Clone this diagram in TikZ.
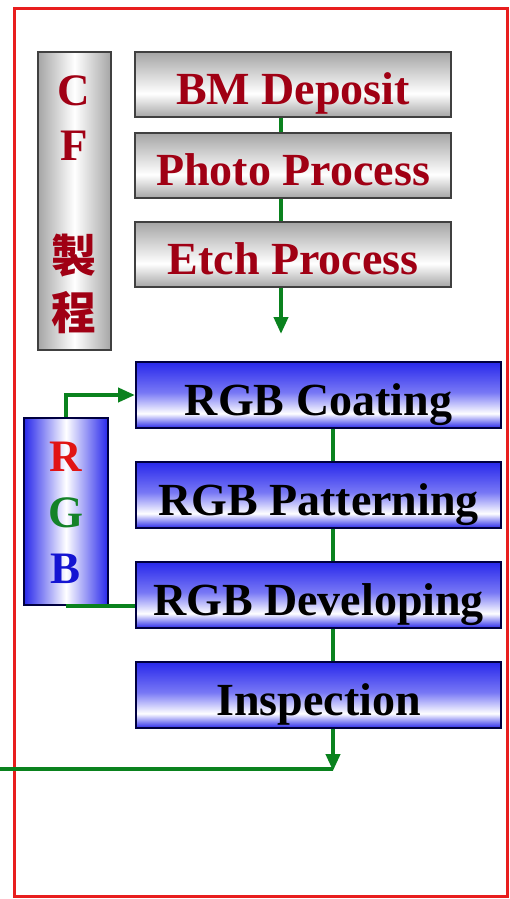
\documentclass[tikz,border=0pt]{standalone}
\usepackage{fontspec}
\setmainfont{Liberation Serif}
\newfontfamily\cjk{Noto Sans CJK TC}
\usetikzlibrary{arrows.meta}
\definecolor{cfred}{RGB}{160,0,20}
\definecolor{barblue}{RGB}{40,40,235}
\definecolor{barbluemid}{RGB}{120,120,245}
\definecolor{bargray}{RGB}{165,165,165}
\definecolor{flowgreen}{RGB}{10,130,30}
\definecolor{framered}{RGB}{232,30,30}
\definecolor{letR}{RGB}{225,20,20}
\definecolor{letG}{RGB}{20,130,40}
\definecolor{letB}{RGB}{20,20,210}
% vertical shadings: 25bp = bottom of the box, 75bp = top
\pgfdeclareverticalshading{bluebar}{100bp}{color(0bp)=(barblue); color(25bp)=(barblue); color(36bp)=(white); color(52bp)=(barbluemid); color(75bp)=(barblue); color(100bp)=(barblue)}
\pgfdeclareverticalshading{graybar}{100bp}{color(0bp)=(bargray); color(25bp)=(bargray); color(43bp)=(white); color(75bp)=(bargray); color(100bp)=(bargray)}
\tikzset{
  bar/.style={draw, line width=2pt, minimum height=65pt, inner sep=0pt,
    font=\bfseries\fontsize{46}{50}\selectfont, text height=46pt, text depth=6pt},
  cfbar/.style={bar, shading=graybar, draw=black!75, text=cfred, minimum width=316pt},
  rgbbar/.style={bar, shading=bluebar, draw=blue!25!black, minimum width=365pt, minimum height=66pt},
  column/.style={draw, line width=2pt, inner sep=0pt, shading=axis,
    left color=#1, right color=#1, middle color=white},
  letter/.style={inner sep=0pt, font=\bfseries\fontsize{45}{50}\selectfont, text height=30pt, text depth=0pt},
  flow/.style={draw=flowgreen, line width=4pt}
}
\begin{document}
\begin{tikzpicture}[x=1pt,y=-1pt,>={Triangle[length=17pt,width=14pt]}]
\useasboundingbox (0,0) rectangle (510,899);
% khung do
\draw[framered, line width=3pt] (14,9) rectangle (507,896);
% cot CF
\node[column=bargray, draw=black!75,
  minimum width=73pt, minimum height=298pt] (cf) at (74.5,201) {};
\foreach \ch/\y [count=\i] in {C/90,F/145,{\cjk 製}/257,{\cjk 程}/314}
  \node[letter, text=cfred] (cf\i) at (74,\y) {\ch};
\node[cfbar] (bm) at (293,84.5) {BM Deposit};
\node[cfbar] (photo) at (293,165.5) {Photo Process};
\node[cfbar] (etch) at (293,254.5) {Etch Process};
% cot RGB
\node[column=barblue, draw=blue!25!black,
  minimum width=84pt, minimum height=187pt] (rgb) at (66,511.5) {};
\node[letter, text=letR] (rgbR) at (66,456) {R};
\node[letter, text=letG] (rgbG) at (66,512) {G};
\node[letter, text=letB] (rgbB) at (66,568) {B};
\node[rgbbar] (coat) at (318.5,395) {RGB Coating};
\node[rgbbar] (pattern) at (318.5,495) {RGB Patterning};
\node[rgbbar] (dev) at (318.5,595) {RGB Developing};
\node[rgbbar] (insp) at (318.5,695) {Inspection};
% duong noi
\coordinate (cfx) at (281,0);
\coordinate (rgbx) at (333,0);
\coordinate (etchout) at (281,334);
\coordinate (inspout) at (333,771);
\coordinate (inlet) at (0,769);
\foreach \a/\b in {bm/photo,photo/etch}
  \draw[flow] (\a.south -| cfx) -- (\b.north -| cfx);
\draw[flow,->] (etch.south -| cfx) -- (etchout);
\foreach \a/\b in {coat/pattern,pattern/dev,dev/insp}
  \draw[flow] (\a.south -| rgbx) -- (\b.north -| rgbx);
\draw[flow] (inlet) -- (inlet -| inspout);
\draw[flow,->] (insp.south -| rgbx) -- (inspout);
\draw[flow,->] (rgb.north) |- (coat.west);
\draw[flow] (rgb.south) -- (rgb.south -| dev.west);
\end{tikzpicture}
\end{document}
